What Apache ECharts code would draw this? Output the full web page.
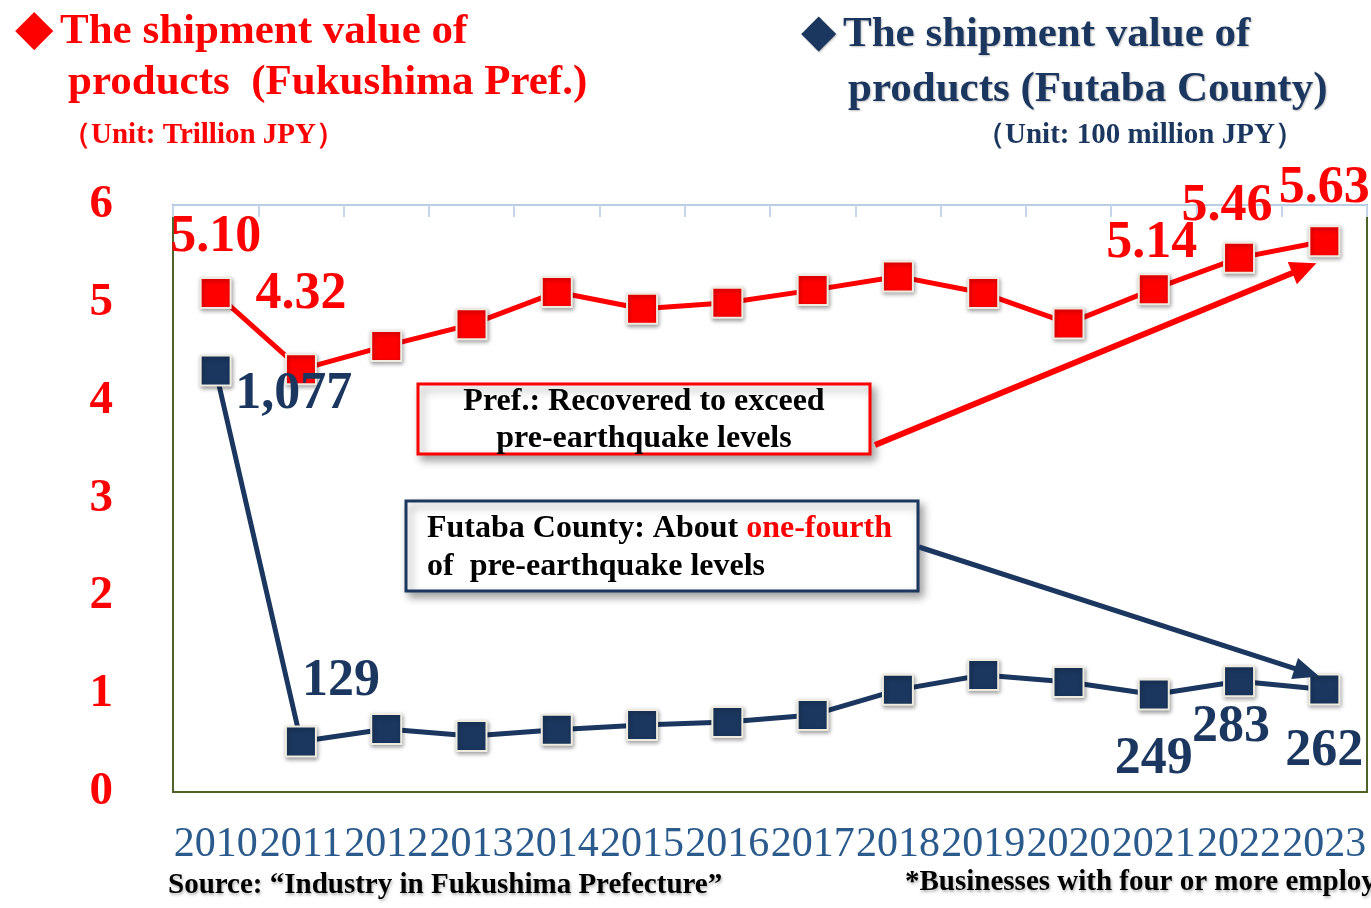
<!DOCTYPE html>
<html>
<head>
<meta charset="utf-8">
<script src="https://cdn.jsdelivr.net/npm/echarts@6/dist/echarts.min.js"></script>
<style>
html,body{margin:0;padding:0;background:#fff;}
#chart{width:1371px;height:908px;}
</style>
</head>
<body>
<div id="chart"></div>
<script>
// ---- data ----
const years = ['2010','2011','2012','2013','2014','2015','2016','2017','2018','2019','2020','2021','2022','2023'];
const prefValues = [5.10, 4.32, 4.56, 4.78, 5.11, 4.94, 5.00, 5.13, 5.27, 5.10, 4.79, 5.14, 5.46, 5.63];
const futabaValues = [1077, 129, 161, 143, 159, 171, 179, 197, 261, 299, 281, 249, 283, 262];
const prefLabels = {0: '5.10', 1: '4.32', 11: '5.14', 12: '5.46', 13: '5.63'};
const futabaLabels = {0: '1,077', 1: '129', 11: '249', 12: '283', 13: '262'};
const leftTicks = [0, 1, 2, 3, 4, 5, 6];

// ---- label placement (styling) ----
const prefOffsets = {0: [0, -55], 1: [0, -75], 11: [-2, -46], 12: [-12, -51], 13: [0, -53]};
const futabaOffsets = {0: [78, 24], 1: [40, -60], 11: [0, 65], 12: [-8, 46], 13: [0, 62]};

const RED = '#ff0000';
const NAVY = '#1b375f';
const SERIF = '"Liberation Serif","Times New Roman",serif';

function buildData(values, labels, offsets, color) {
  return values.map((v, i) => {
    const item = {value: v};
    if (labels[i] !== undefined) {
      item.label = {
        show: true,
        position: 'inside',
        offset: offsets[i],
        formatter: labels[i],
        color: color,
        fontFamily: SERIF,
        fontWeight: 'bold',
        fontSize: 52
      };
    }
    return item;
  });
}

const chart = echarts.init(document.getElementById('chart'));

const markerStyle = (c) => ({
  color: c,
  borderColor: '#eeece1',
  borderWidth: 2,
  shadowColor: 'rgba(0,0,0,0.35)',
  shadowBlur: 4,
  shadowOffsetX: 1,
  shadowOffsetY: 2
});

const option = {
  animation: false,
  backgroundColor: '#ffffff',
  grid: {
    left: 173, right: 4, top: 205, bottom: 116,
    show: true, borderColor: '#4f6228', borderWidth: 2, backgroundColor: 'transparent'
  },
  xAxis: [
    {
      type: 'category', data: years, boundaryGap: true, position: 'bottom',
      axisLine: {show: false}, axisTick: {show: false},
      axisLabel: {color: '#2b5a8c', fontFamily: SERIF, fontSize: 42, margin: 32, interval: 0}
    },
    {
      type: 'category', data: years, boundaryGap: true, position: 'top',
      axisLine: {show: true, onZero: false, lineStyle: {color: '#b9cde5', width: 2}},
      axisTick: {show: true, inside: true, length: 12, lineStyle: {color: '#c6d6ea', width: 2}},
      axisLabel: {show: false}
    }
  ],
  yAxis: [
    {
      type: 'value', min: leftTicks[0], max: leftTicks[leftTicks.length - 1], interval: 1,
      axisLine: {show: false}, axisTick: {show: false}, splitLine: {show: false},
      axisLabel: {color: RED, fontFamily: SERIF, fontWeight: 'bold', fontSize: 47, margin: 60, padding: [6, 0, 0, 0]}
    },
    {
      type: 'value', min: 0, max: 1500, interval: 250, position: 'right',
      axisLine: {show: false}, axisTick: {show: false}, splitLine: {show: false},
      axisLabel: {show: false}
    }
  ],
  series: [
    {
      name: 'Fukushima Pref.', type: 'line', xAxisIndex: 0, yAxisIndex: 0,
      data: buildData(prefValues, prefLabels, prefOffsets, RED),
      symbol: 'rect', symbolSize: 30,
      lineStyle: {color: RED, width: 5},
      itemStyle: markerStyle(RED),
      z: 3
    },
    {
      name: 'Futaba County', type: 'line', xAxisIndex: 0, yAxisIndex: 1,
      data: buildData(futabaValues, futabaLabels, futabaOffsets, NAVY),
      symbol: 'rect', symbolSize: 30,
      lineStyle: {color: NAVY, width: 5},
      itemStyle: markerStyle(NAVY),
      z: 3
    }
  ]
};
chart.setOption(option);

// ---- annotations ----
function arrow(from, to, color, width, headLen, headW) {
  const dx = to[0] - from[0], dy = to[1] - from[1];
  const len = Math.sqrt(dx * dx + dy * dy);
  const ux = dx / len, uy = dy / len;
  const bx = to[0] - ux * headLen, by = to[1] - uy * headLen;
  const px = -uy, py = ux;
  return [
    {type: 'line', shape: {x1: from[0], y1: from[1], x2: bx + ux * 2, y2: by + uy * 2},
     style: {stroke: color, lineWidth: width}, z: 10},
    {type: 'polygon', shape: {points: [to, [bx + px * headW / 2, by + py * headW / 2], [bx - px * headW / 2, by - py * headW / 2]]},
     style: {fill: color}, z: 10}
  ];
}

const redPt = chart.convertToPixel({xAxisIndex: 0, yAxisIndex: 0}, [years.length - 1, prefValues[prefValues.length - 1]]);
const bluePt = chart.convertToPixel({xAxisIndex: 0, yAxisIndex: 1}, [years.length - 1, futabaValues[futabaValues.length - 1]]);

const titleFont = (size) => 'bold ' + size + 'px ' + SERIF;
const shadowed = {textShadowColor: 'rgba(0,0,0,0.25)', textShadowBlur: 2, textShadowOffsetX: 1, textShadowOffsetY: 1};

const graphics = [
  // left title
  {type: 'text', style: {x: 15, y: 31, text: '◆', fill: RED, font: 'bold 50px "DejaVu Sans"', textVerticalAlign: 'middle'}},
  {type: 'text', style: {x: 60, y: 32, text: 'The shipment value of', fill: RED, font: titleFont(43), textVerticalAlign: 'middle'}},
  {type: 'text', style: {x: 68, y: 83, text: 'products  (Fukushima Pref.)', fill: RED, font: titleFont(43), textVerticalAlign: 'middle'}},
  {type: 'text', style: {x: 62, y: 136, text: '（Unit: Trillion JPY）', fill: RED, font: titleFont(29), textVerticalAlign: 'middle'}},
  // right title
  {type: 'text', style: Object.assign({x: 801, y: 34, text: '◆', fill: NAVY, font: 'bold 46px "DejaVu Sans"', textVerticalAlign: 'middle'}, shadowed)},
  {type: 'text', style: Object.assign({x: 843, y: 35, text: 'The shipment value of', fill: NAVY, font: titleFont(43), textVerticalAlign: 'middle'}, shadowed)},
  {type: 'text', style: Object.assign({x: 848, y: 90, text: 'products (Futaba County)', fill: NAVY, font: titleFont(43), textVerticalAlign: 'middle'}, shadowed)},
  {type: 'text', style: {x: 976, y: 136, text: '（Unit: 100 million JPY）', fill: NAVY, font: titleFont(29), textVerticalAlign: 'middle'}},
  // footer
  {type: 'text', style: {x: 168, y: 886, text: 'Source: “Industry in Fukushima Prefecture”', fill: '#000', font: titleFont(29), textVerticalAlign: 'middle', textShadowColor: 'rgba(0,0,0,0.3)', textShadowBlur: 3, textShadowOffsetX: 1, textShadowOffsetY: 2}},
  {type: 'text', style: {x: 905, y: 883, text: '*Businesses with four or more employees', fill: '#000', font: titleFont(29), textVerticalAlign: 'middle', textShadowColor: 'rgba(0,0,0,0.3)', textShadowBlur: 3, textShadowOffsetX: 1, textShadowOffsetY: 2}},
  // red box
  {type: 'rect', shape: {x: 418, y: 384, width: 452, height: 70},
   style: {fill: '#fff', stroke: RED, lineWidth: 3, shadowColor: 'rgba(0,0,0,0.35)', shadowBlur: 8, shadowOffsetX: 4, shadowOffsetY: 5}, z: 9},
  {type: 'text', style: {x: 644, y: 402, text: 'Pref.: Recovered to exceed', fill: '#000', font: titleFont(32), textAlign: 'center', textVerticalAlign: 'middle'}, z: 11},
  {type: 'text', style: {x: 644, y: 439, text: 'pre-earthquake levels', fill: '#000', font: titleFont(32), textAlign: 'center', textVerticalAlign: 'middle'}, z: 11},
  // blue box
  {type: 'rect', shape: {x: 406, y: 501, width: 512, height: 90},
   style: {fill: '#fff', stroke: NAVY, lineWidth: 3, shadowColor: 'rgba(0,0,0,0.35)', shadowBlur: 8, shadowOffsetX: 4, shadowOffsetY: 5}, z: 9},
  {type: 'text', style: {x: 427, y: 529, text: '{b|Futaba County: About }{r|one-fourth}', textVerticalAlign: 'middle',
    rich: {b: {fill: '#000', font: titleFont(32)}, r: {fill: RED, font: titleFont(32)}}}, z: 11},
  {type: 'text', style: {x: 427, y: 567, text: 'of  pre-earthquake levels', fill: '#000', font: titleFont(32), textVerticalAlign: 'middle'}, z: 11}
];

arrow([875, 445], [redPt[0] - 8, redPt[1] + 22], RED, 6, 26, 24).forEach(g => graphics.push(g));
arrow([919, 547], [bluePt[0] - 5, bluePt[1] - 13], NAVY, 5, 26, 22).forEach(g => graphics.push(g));

chart.setOption({graphic: {elements: graphics}});
</script>
</body>
</html>
